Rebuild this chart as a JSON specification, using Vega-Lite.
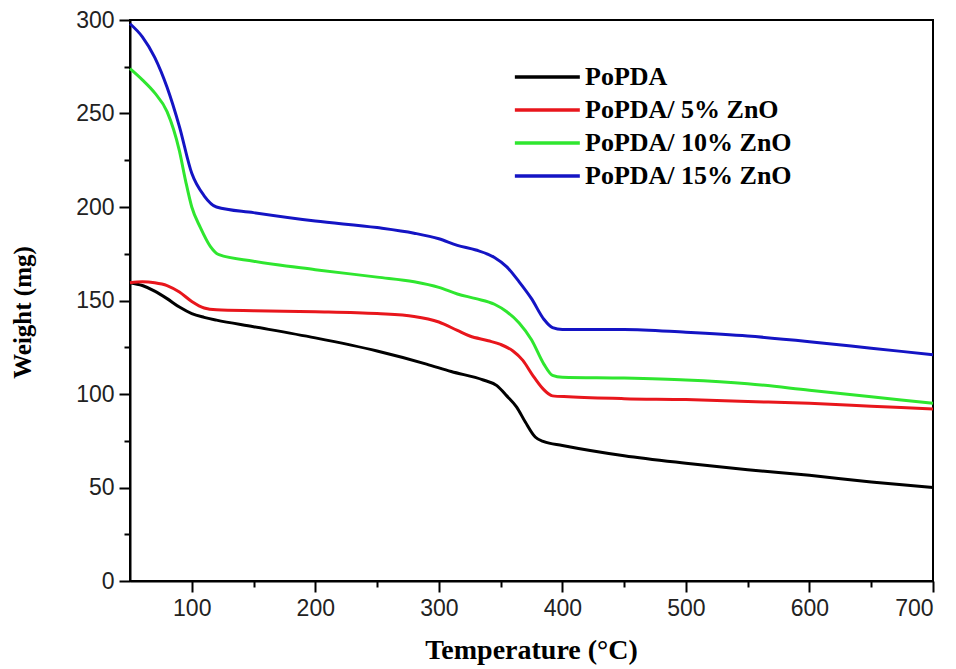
{
  "$schema": "https://vega.github.io/schema/vega-lite/v6.json",
  "autosize": {"type": "none"},
  "width": 803,
  "height": 561,
  "padding": {"left": 130, "top": 20, "right": 23, "bottom": 88},
  "background": "white",
  "config": {
    "view": {"stroke": "black", "strokeWidth": 2},
    "axis": {"grid": false, "domainColor": "black", "domainWidth": 2, "tickColor": "black", "tickWidth": 2,
      "labelFont": "Liberation Sans", "labelFontSize": 23, "labelColor": "#222",
      "titleFont": "Liberation Serif", "titleFontWeight": "bold", "titleColor": "black"}
  },
  "datasets": {
    "tga": [
      {"s": "PoPDA", "T": 50, "W": 159.5}, {"s": "PoPDA", "T": 60, "W": 158}, {"s": "PoPDA", "T": 70, "W": 155}, {"s": "PoPDA", "T": 80, "W": 151}, {"s": "PoPDA", "T": 90, "W": 146.5}, {"s": "PoPDA", "T": 100, "W": 143}, {"s": "PoPDA", "T": 110, "W": 141}, {"s": "PoPDA", "T": 120, "W": 139.5}, {"s": "PoPDA", "T": 150, "W": 136}, {"s": "PoPDA", "T": 200, "W": 130}, {"s": "PoPDA", "T": 250, "W": 123}, {"s": "PoPDA", "T": 290, "W": 116}, {"s": "PoPDA", "T": 310, "W": 112}, {"s": "PoPDA", "T": 336, "W": 107.5}, {"s": "PoPDA", "T": 347, "W": 104.5}, {"s": "PoPDA", "T": 355, "W": 99}, {"s": "PoPDA", "T": 363, "W": 93}, {"s": "PoPDA", "T": 370, "W": 85}, {"s": "PoPDA", "T": 378, "W": 77}, {"s": "PoPDA", "T": 385, "W": 74.5}, {"s": "PoPDA", "T": 400, "W": 72.5}, {"s": "PoPDA", "T": 450, "W": 67}, {"s": "PoPDA", "T": 500, "W": 63}, {"s": "PoPDA", "T": 550, "W": 59.5}, {"s": "PoPDA", "T": 600, "W": 56.5}, {"s": "PoPDA", "T": 650, "W": 53}, {"s": "PoPDA", "T": 700, "W": 50},
      {"s": "PoPDA/ 5% ZnO", "T": 50, "W": 159.5}, {"s": "PoPDA/ 5% ZnO", "T": 60, "W": 160}, {"s": "PoPDA/ 5% ZnO", "T": 70, "W": 159.5}, {"s": "PoPDA/ 5% ZnO", "T": 80, "W": 158}, {"s": "PoPDA/ 5% ZnO", "T": 90, "W": 154.5}, {"s": "PoPDA/ 5% ZnO", "T": 100, "W": 149.5}, {"s": "PoPDA/ 5% ZnO", "T": 110, "W": 146}, {"s": "PoPDA/ 5% ZnO", "T": 120, "W": 145}, {"s": "PoPDA/ 5% ZnO", "T": 150, "W": 144.5}, {"s": "PoPDA/ 5% ZnO", "T": 200, "W": 144}, {"s": "PoPDA/ 5% ZnO", "T": 250, "W": 143}, {"s": "PoPDA/ 5% ZnO", "T": 280, "W": 141.5}, {"s": "PoPDA/ 5% ZnO", "T": 300, "W": 138.5}, {"s": "PoPDA/ 5% ZnO", "T": 315, "W": 134}, {"s": "PoPDA/ 5% ZnO", "T": 325, "W": 131}, {"s": "PoPDA/ 5% ZnO", "T": 340, "W": 128.5}, {"s": "PoPDA/ 5% ZnO", "T": 350, "W": 126.5}, {"s": "PoPDA/ 5% ZnO", "T": 360, "W": 123}, {"s": "PoPDA/ 5% ZnO", "T": 368, "W": 118}, {"s": "PoPDA/ 5% ZnO", "T": 376, "W": 110}, {"s": "PoPDA/ 5% ZnO", "T": 384, "W": 103}, {"s": "PoPDA/ 5% ZnO", "T": 392, "W": 99}, {"s": "PoPDA/ 5% ZnO", "T": 405, "W": 98.5}, {"s": "PoPDA/ 5% ZnO", "T": 450, "W": 97.5}, {"s": "PoPDA/ 5% ZnO", "T": 500, "W": 97}, {"s": "PoPDA/ 5% ZnO", "T": 550, "W": 96}, {"s": "PoPDA/ 5% ZnO", "T": 600, "W": 95}, {"s": "PoPDA/ 5% ZnO", "T": 650, "W": 93.5}, {"s": "PoPDA/ 5% ZnO", "T": 700, "W": 92},
      {"s": "PoPDA/ 10% ZnO", "T": 50, "W": 274}, {"s": "PoPDA/ 10% ZnO", "T": 60, "W": 268}, {"s": "PoPDA/ 10% ZnO", "T": 70, "W": 261}, {"s": "PoPDA/ 10% ZnO", "T": 80, "W": 251}, {"s": "PoPDA/ 10% ZnO", "T": 90, "W": 230}, {"s": "PoPDA/ 10% ZnO", "T": 95, "W": 214}, {"s": "PoPDA/ 10% ZnO", "T": 100, "W": 200}, {"s": "PoPDA/ 10% ZnO", "T": 107, "W": 189}, {"s": "PoPDA/ 10% ZnO", "T": 115, "W": 179}, {"s": "PoPDA/ 10% ZnO", "T": 122, "W": 174.5}, {"s": "PoPDA/ 10% ZnO", "T": 150, "W": 171}, {"s": "PoPDA/ 10% ZnO", "T": 200, "W": 166.5}, {"s": "PoPDA/ 10% ZnO", "T": 250, "W": 162.5}, {"s": "PoPDA/ 10% ZnO", "T": 280, "W": 160}, {"s": "PoPDA/ 10% ZnO", "T": 300, "W": 157}, {"s": "PoPDA/ 10% ZnO", "T": 315, "W": 153.5}, {"s": "PoPDA/ 10% ZnO", "T": 330, "W": 151}, {"s": "PoPDA/ 10% ZnO", "T": 345, "W": 148}, {"s": "PoPDA/ 10% ZnO", "T": 355, "W": 144}, {"s": "PoPDA/ 10% ZnO", "T": 365, "W": 138}, {"s": "PoPDA/ 10% ZnO", "T": 375, "W": 129}, {"s": "PoPDA/ 10% ZnO", "T": 385, "W": 116}, {"s": "PoPDA/ 10% ZnO", "T": 392, "W": 110}, {"s": "PoPDA/ 10% ZnO", "T": 400, "W": 109}, {"s": "PoPDA/ 10% ZnO", "T": 450, "W": 108.5}, {"s": "PoPDA/ 10% ZnO", "T": 500, "W": 107.5}, {"s": "PoPDA/ 10% ZnO", "T": 550, "W": 105.5}, {"s": "PoPDA/ 10% ZnO", "T": 600, "W": 102}, {"s": "PoPDA/ 10% ZnO", "T": 650, "W": 98.5}, {"s": "PoPDA/ 10% ZnO", "T": 700, "W": 95},
      {"s": "PoPDA/ 15% ZnO", "T": 50, "W": 298}, {"s": "PoPDA/ 15% ZnO", "T": 60, "W": 291}, {"s": "PoPDA/ 15% ZnO", "T": 70, "W": 280}, {"s": "PoPDA/ 15% ZnO", "T": 80, "W": 264}, {"s": "PoPDA/ 15% ZnO", "T": 90, "W": 243}, {"s": "PoPDA/ 15% ZnO", "T": 100, "W": 218}, {"s": "PoPDA/ 15% ZnO", "T": 110, "W": 206}, {"s": "PoPDA/ 15% ZnO", "T": 120, "W": 200}, {"s": "PoPDA/ 15% ZnO", "T": 150, "W": 197}, {"s": "PoPDA/ 15% ZnO", "T": 200, "W": 192.5}, {"s": "PoPDA/ 15% ZnO", "T": 250, "W": 189}, {"s": "PoPDA/ 15% ZnO", "T": 280, "W": 186}, {"s": "PoPDA/ 15% ZnO", "T": 300, "W": 183}, {"s": "PoPDA/ 15% ZnO", "T": 315, "W": 179.5}, {"s": "PoPDA/ 15% ZnO", "T": 330, "W": 177}, {"s": "PoPDA/ 15% ZnO", "T": 345, "W": 173}, {"s": "PoPDA/ 15% ZnO", "T": 355, "W": 168}, {"s": "PoPDA/ 15% ZnO", "T": 365, "W": 160}, {"s": "PoPDA/ 15% ZnO", "T": 375, "W": 151}, {"s": "PoPDA/ 15% ZnO", "T": 385, "W": 140}, {"s": "PoPDA/ 15% ZnO", "T": 392, "W": 135.5}, {"s": "PoPDA/ 15% ZnO", "T": 400, "W": 134.5}, {"s": "PoPDA/ 15% ZnO", "T": 450, "W": 134.5}, {"s": "PoPDA/ 15% ZnO", "T": 500, "W": 133}, {"s": "PoPDA/ 15% ZnO", "T": 550, "W": 131}, {"s": "PoPDA/ 15% ZnO", "T": 600, "W": 128}, {"s": "PoPDA/ 15% ZnO", "T": 650, "W": 124.5}, {"s": "PoPDA/ 15% ZnO", "T": 700, "W": 121}
    ]
  },
  "data": {"name": "tga"},
  "resolve": {"axis": {"x": "independent", "y": "independent"}},
  "layer": [
    {
      "mark": {"type": "line", "interpolate": "monotone", "strokeWidth": 3, "strokeOpacity": 0},
      "encoding": {
        "x": {"field": "T", "type": "quantitative", "scale": {"domain": [50, 700], "nice": false},
          "axis": {"orient": "bottom", "values": [150, 250, 350, 450, 550, 650], "labels": false, "tickSize": 6, "domain": false, "title": null}},
        "y": {"field": "W", "type": "quantitative", "scale": {"domain": [0, 300], "nice": false},
          "axis": {"orient": "left", "values": [25, 75, 125, 175, 225, 275], "labels": false, "tickSize": 6, "domain": false, "title": null}},
        "detail": {"field": "s"}
      }
    },
    {
      "mark": {"type": "line", "interpolate": "monotone", "strokeWidth": 3},
      "encoding": {
        "x": {"field": "T", "type": "quantitative", "scale": {"domain": [50, 700], "nice": false},
          "axis": {"orient": "bottom", "values": [100, 200, 300, 400, 500, 600, 700], "tickSize": 11, "labelPadding": 5,
            "title": "Temperature (°C)", "titleFontSize": 28, "titleX": 401, "titleY": 77, "titleBaseline": "alphabetic"}},
        "y": {"field": "W", "type": "quantitative", "scale": {"domain": [0, 300], "nice": false},
          "axis": {"orient": "left", "values": [0, 50, 100, 150, 200, 250, 300], "tickSize": 11, "labelPadding": 5,
            "title": "Weight (mg)", "titleFontSize": 25, "titleX": -100, "titleY": 292, "titleBaseline": "alphabetic"}},
        "color": {"field": "s", "type": "nominal",
          "scale": {"domain": ["PoPDA", "PoPDA/ 5% ZnO", "PoPDA/ 10% ZnO", "PoPDA/ 15% ZnO"], "range": ["#000000", "#e8161c", "#2fe62f", "#1414c4"]},
          "legend": {"title": null, "orient": "none", "legendX": 426, "legendY": 44, "symbolType": "M-5,0H1", "symbolSize": 469, "symbolStrokeWidth": 3.5,
            "labelFont": "Liberation Serif", "labelFontWeight": "bold", "labelFontSize": 26, "labelColor": "black", "labelOffset": 3, "labelLimit": 500, "rowPadding": 7}}
      }
    }
  ]
}
